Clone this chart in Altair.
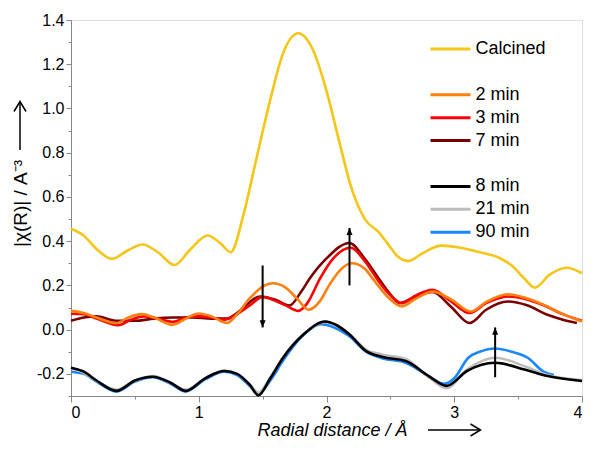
import altair as alt
import pandas as pd

# ---------------- data ----------------
series_names = ["Calcined", " ", "2 min", "3 min", "7 min", "  ", "8 min", "21 min", "90 min"]
series_colors = ["#F5C518", "rgba(0,0,0,0)", "#FF7F0F", "#FF0000", "#7A0000",
                 "rgba(0,0,0,0)", "#000000", "#BDBDBD", "#1A86FF"]

calc_x = [0.0, 0.1, 0.2, 0.32, 0.45, 0.56, 0.68, 0.81, 0.93, 1.07, 1.17, 1.25, 1.35, 1.45,
          1.56, 1.66, 1.78, 1.89, 2.0, 2.1, 2.19, 2.3, 2.41, 2.49, 2.55, 2.64, 2.75, 2.9,
          3.05, 3.2, 3.35, 3.45, 3.55, 3.63, 3.75, 3.88, 4.0]
calc_y = [0.456, 0.425, 0.365, 0.32, 0.36, 0.385, 0.35, 0.292, 0.36, 0.426, 0.39, 0.35,
          0.52, 0.77, 1.04, 1.25, 1.34, 1.27, 1.08, 0.85, 0.65, 0.50, 0.44, 0.38, 0.335,
          0.31, 0.345, 0.38, 0.37, 0.35, 0.325, 0.29, 0.23, 0.19, 0.25, 0.28, 0.255]

m2_x = [0.0, 0.1, 0.2, 0.356, 0.45, 0.55, 0.65, 0.795, 0.9, 1.0, 1.1, 1.22, 1.3, 1.4, 1.5,
        1.58, 1.68, 1.77, 1.86, 1.95, 2.02, 2.1, 2.2, 2.3, 2.36, 2.49, 2.59, 2.7, 2.83,
        2.98, 3.13, 3.25, 3.42, 3.55, 3.7, 3.85, 4.0]
m2_y = [0.085, 0.075, 0.055, 0.03, 0.055, 0.07, 0.055, 0.022, 0.05, 0.073, 0.06, 0.03,
        0.07, 0.142, 0.195, 0.21, 0.19, 0.14, 0.09, 0.13, 0.2, 0.265, 0.30, 0.275, 0.232,
        0.142, 0.105, 0.14, 0.172, 0.135, 0.082, 0.125, 0.16, 0.145, 0.112, 0.07, 0.037]

m3_x = [0.0, 0.1, 0.2, 0.37, 0.47, 0.57, 0.68, 0.8, 0.9, 1.0, 1.1, 1.2, 1.3, 1.4, 1.5,
        1.6, 1.68, 1.78, 1.85, 1.95, 2.05, 2.19, 2.3, 2.41, 2.5, 2.59, 2.7, 2.83, 2.97,
        3.12, 3.25, 3.42, 3.55, 3.7, 3.85, 4.0]
m3_y = [0.072, 0.07, 0.05, 0.02, 0.045, 0.06, 0.05, 0.035, 0.055, 0.06, 0.055, 0.045,
        0.07, 0.11, 0.148, 0.13, 0.11, 0.085, 0.12, 0.232, 0.32, 0.37, 0.31, 0.217, 0.155,
        0.12, 0.155, 0.18, 0.13, 0.075, 0.12, 0.15, 0.14, 0.11, 0.07, 0.04]

m7_x = [0.0, 0.1, 0.2, 0.35, 0.5, 0.65, 0.8, 0.95, 1.1, 1.22, 1.3, 1.35, 1.48, 1.6, 1.71,
        1.8, 1.87, 2.0, 2.18, 2.3, 2.41, 2.5, 2.57, 2.7, 2.83, 2.98, 3.12, 3.25, 3.42,
        3.57, 3.73, 3.85, 3.96]
m7_y = [0.04, 0.055, 0.06, 0.04, 0.04, 0.05, 0.055, 0.055, 0.05, 0.05, 0.075, 0.1, 0.15,
        0.135, 0.109, 0.17, 0.232, 0.322, 0.392, 0.32, 0.23, 0.16, 0.12, 0.15, 0.17, 0.1,
        0.03, 0.09, 0.127, 0.11, 0.067, 0.045, 0.03]

m8_x = [0.0, 0.1, 0.2, 0.356, 0.5, 0.64, 0.78, 0.898, 1.05, 1.2, 1.3, 1.4, 1.467, 1.56,
        1.66, 1.82, 1.99, 2.08, 2.18, 2.31, 2.44, 2.62, 2.8, 2.94, 3.1, 3.32, 3.55, 3.73, 4.0]
m8_y = [-0.172, -0.19, -0.23, -0.277, -0.23, -0.213, -0.24, -0.277, -0.22, -0.187, -0.2,
        -0.25, -0.297, -0.22, -0.127, -0.022, 0.037, 0.02, -0.022, -0.097, -0.124, -0.142,
        -0.21, -0.254, -0.187, -0.15, -0.18, -0.21, -0.232]

m21_x = [0.0, 0.1, 0.2, 0.356, 0.5, 0.64, 0.78, 0.898, 1.05, 1.2, 1.3, 1.4, 1.467, 1.56,
         1.66, 1.82, 1.99, 2.08, 2.18, 2.31, 2.44, 2.62, 2.8, 2.94, 3.1, 3.32, 3.55, 3.73, 4.0]
m21_y = [-0.175, -0.195, -0.232, -0.272, -0.23, -0.21, -0.24, -0.272, -0.22, -0.185, -0.2,
         -0.248, -0.285, -0.215, -0.125, -0.02, 0.035, 0.02, -0.02, -0.09, -0.113, -0.133,
         -0.215, -0.265, -0.18, -0.127, -0.165, -0.205, -0.228]

m90_x = [0.0, 0.1, 0.2, 0.356, 0.5, 0.64, 0.78, 0.898, 1.05, 1.2, 1.3, 1.4, 1.467, 1.56,
         1.66, 1.8, 1.96, 2.06, 2.18, 2.31, 2.44, 2.62, 2.8, 2.92, 3.0, 3.11, 3.2, 3.32,
         3.45, 3.575, 3.7, 3.78]
m90_y = [-0.19, -0.2, -0.235, -0.28, -0.235, -0.215, -0.245, -0.28, -0.225, -0.19, -0.205,
         -0.255, -0.29, -0.23, -0.14, -0.035, 0.025, 0.01, -0.03, -0.1, -0.13, -0.15, -0.21,
         -0.245, -0.22, -0.127, -0.1, -0.085, -0.1, -0.127, -0.19, -0.205]

# annotation arrows (x position, tail y, tip y, direction)
arrow_x = [1.5, 2.18, 3.32]
arrow_from = [0.29, 0.20, -0.215]
arrow_to = [0.01, 0.46, 0.01]
arrow_dir = ["down", "up", "up"]

x_tick_values = [0, 0.5, 1, 1.5, 2, 2.5, 3, 3.5, 4]
y_tick_values = [-0.3, -0.2, -0.1, 0.0, 0.1, 0.2, 0.3, 0.4, 0.5, 0.6, 0.7, 0.8, 0.9, 1.0,
                 1.1, 1.2, 1.3, 1.4]

# ---------------- build tables ----------------
def frame(name, xs, ys):
    return pd.DataFrame({"R": xs, "chi": ys, "series": name})

draw_order = [
    ("Calcined", calc_x, calc_y),
    ("7 min", m7_x, m7_y),
    ("3 min", m3_x, m3_y),
    ("2 min", m2_x, m2_y),
    ("90 min", m90_x, m90_y),
    ("21 min", m21_x, m21_y),
    ("8 min", m8_x, m8_y),
]

FONT = "Liberation Sans"
PAD_L, PAD_T, PAD_R, PAD_B = 63, 12, 1, 45
W, H = 575 - PAD_L - PAD_R, 376
TITLE_Y = 34

xscale = alt.Scale(domain=[0, 4], nice=False, zero=False)
yscale = alt.Scale(domain=[-0.3, 1.4], nice=False, zero=False)
cscale = alt.Scale(domain=series_names, range=series_colors)

x_axis = alt.Axis(
    values=x_tick_values,
    labelExpr="datum.value % 1 == 0 ? format(datum.value, 'd') : ''",
    tickSize={"condition": {"test": "datum.value % 1 == 0", "value": 6}, "value": 3},
    title="Radial distance / Å",
    titleFontStyle="italic", titleFontWeight="normal", titleFontSize=18,
    titleX=261, titleY=TITLE_Y, titleBaseline="middle", titleAlign="center",
    labelFontSize=16, labelPadding=2, grid=False,
)
y_axis = alt.Axis(
    values=y_tick_values,
    labelExpr="abs(datum.value*5 - round(datum.value*5)) < 0.001 ? "
              "(datum.value < -0.0001 ? '-' : '') + format(abs(datum.value), '.1f') : ''",
    tickSize={"condition": {"test": "abs(datum.value*5 - round(datum.value*5)) < 0.001",
                            "value": 5}, "value": 3},
    title="|χ(R)| / A⁻³",
    titleFontWeight="normal", titleFontSize=19,
    titleX=-51, titleY=183, titleAngle=270, titleBaseline="middle", titleAlign="center",
    labelFontSize=16, labelPadding=2, grid=False,
)
legend = alt.Legend(
    title=None, orient="none", legendX=358, legendY=21,
    symbolType="stroke", symbolSize=1600, symbolStrokeWidth=3,
    clipHeight=16, rowPadding=4.9, labelFontSize=18, labelOffset=3.5,
    padding=0, labelFont=FONT, labelColor="#000000",
)

layers = []
for name, xs, ys in draw_order:
    df = frame(name, xs, ys)
    layers.append(
        alt.Chart(df).mark_line(strokeWidth=2.6, interpolate="monotone").encode(
            x=alt.X("R:Q", scale=xscale, axis=x_axis),
            y=alt.Y("chi:Q", scale=yscale, axis=y_axis),
            color=alt.Color("series:N", scale=cscale, legend=legend),
        )
    )

# arrows inside the plot
arr_df = pd.DataFrame({"R": arrow_x, "chi": arrow_from, "chi2": arrow_to, "dir": arrow_dir})
shafts = alt.Chart(arr_df).mark_rule(color="black", strokeWidth=2).encode(
    x=alt.X("R:Q", scale=xscale, axis=x_axis),
    y=alt.Y("chi:Q", scale=yscale, axis=y_axis),
    y2="chi2:Q")
heads = alt.Chart(arr_df).mark_point(filled=True, color="black", opacity=1, size=36).encode(
    x=alt.X("R:Q", scale=xscale, axis=x_axis),
    y=alt.Y("chi2:Q", scale=yscale, axis=y_axis),
    shape=alt.Shape("dir:N", scale=alt.Scale(
        domain=["down", "up"],
        range=["M0,0L-1,-2.4L1,-2.4Z", "M0,0L-1,2.4L1,2.4Z"]), legend=None),
)

# arrows next to the axis titles
one = pd.DataFrame({"k": [0]})
xa_shaft = alt.Chart(one).mark_rule(color="black", strokeWidth=1.5).encode(
    x=alt.value(357), x2=alt.value(409), y=alt.value(H + TITLE_Y))
xa_head = alt.Chart(one).mark_point(shape="M-2,-1.2L0,0L-2,1.2", size=100, filled=False,
                                    color="black", strokeWidth=1.5, opacity=1).encode(
    x=alt.value(409.5), y=alt.value(H + TITLE_Y))
ya_shaft = alt.Chart(one).mark_rule(color="black", strokeWidth=1.5).encode(
    x=alt.value(-51), y=alt.value(130), y2=alt.value(82))
ya_head = alt.Chart(one).mark_point(shape="M-1.2,2L0,0L1.2,2", size=100, filled=False,
                                    color="black", strokeWidth=1.5, opacity=1).encode(
    x=alt.value(-51), y=alt.value(81.5))

chart = alt.layer(*layers, shafts, heads, xa_shaft, xa_head, ya_shaft, ya_head).properties(
    width=W, height=H,
    autosize=alt.AutoSizeParams(type="none"),
    padding={"left": PAD_L, "top": PAD_T, "right": PAD_R, "bottom": PAD_B},
).configure_view(
    stroke="black", strokeWidth=1.2
).configure_axis(
    labelFont=FONT, titleFont=FONT, labelColor="black", titleColor="black",
    domainColor="black", tickColor="black", domainWidth=1.2, tickWidth=1.2,
).configure(background="white")

chart.save("out.html", embed_options={"renderer": "svg", "actions": False})
